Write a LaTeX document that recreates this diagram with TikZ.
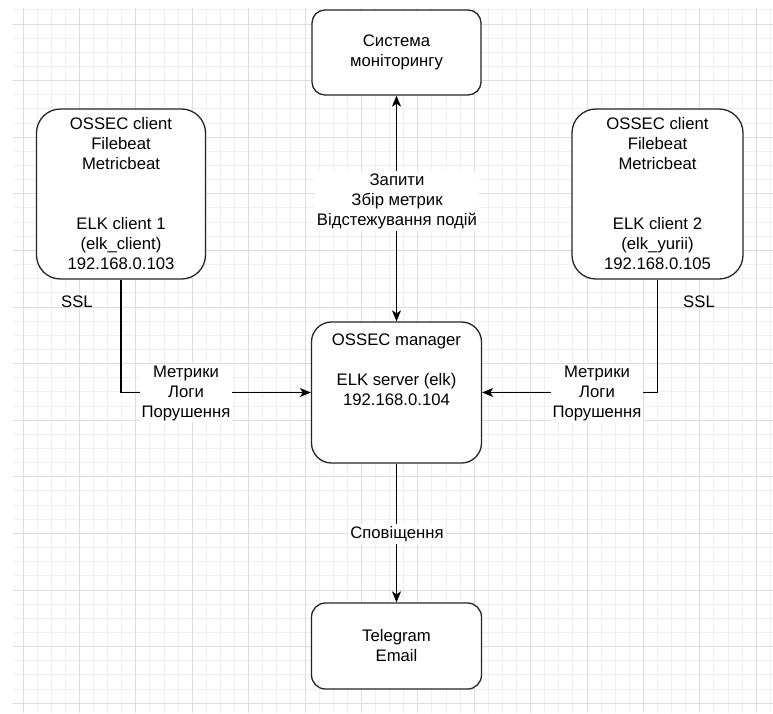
\documentclass[tikz,border=0pt]{standalone}
\usepackage{fontspec}
\setmainfont{Liberation Sans}
\usetikzlibrary{arrows.meta}
\definecolor{gridminor}{HTML}{EFEFEF}
\definecolor{gridmajor}{HTML}{DCDCDC}
\begin{document}
\begin{tikzpicture}[x=1pt,y=-1pt,
  every node/.style={font=\fontsize{16.7}{20}\selectfont},
  box/.style={draw=black!85,line width=1.3pt,fill=white,align=center,inner sep=0pt},
  conn/.style={draw=black,line width=1.1pt},
  tip/.style={-{Stealth[length=11pt,width=9pt,inset=3pt]}},
  lbl/.style={fill=white,align=center,inner sep=2pt},
  minorline/.style={draw=gridminor,line width=1pt},
  majorline/.style={draw=gridmajor,line width=1pt}]
\useasboundingbox (0,0) rectangle (773,713);
\fill[white] (0,0) rectangle (773,713);
% grid
\begin{scope}
\clip (13,8) rectangle (773,713);
\foreach \i in {-1,...,54} {\draw[minorline] ({23+14.1*\i},0) -- ({23+14.1*\i},713);}
\foreach \i in {-2,...,50} {\draw[minorline] (0,{24+14.15*\i}) -- (773,{24+14.15*\i});}
\foreach \i in {0,...,13} {\draw[majorline] ({23+56.4*\i},0) -- ({23+56.4*\i},713);}
\foreach \i in {0,...,12} {\draw[majorline] (0,{24+56.6*\i}) -- (773,{24+56.6*\i});}
\end{scope}
% boxes
\node[box,rounded corners=13pt,minimum width=169pt,minimum height=85pt] (tbox) at (396.5,52.5)
  {Система\\моніторингу};
\node[box,rounded corners=24pt,minimum width=169pt,minimum height=170pt] (lbox) at (121,194)
  {OSSEC client\\Filebeat\\Metricbeat\\\strut\\\strut\\ELK client 1\\(elk\_client)\\192.168.0.103};
\node[box,rounded corners=24pt,minimum width=171pt,minimum height=170pt] (rbox) at (657.5,194)
  {OSSEC client\\Filebeat\\Metricbeat\\\strut\\\strut\\ELK client 2\\(elk\_yurii)\\192.168.0.105};
\node[box,rounded corners=20pt,minimum width=170pt,minimum height=141pt] (mbox) at (396.5,392.5)
  {OSSEC manager\\\strut\\ELK server (elk)\\192.168.0.104\\\strut\\\strut};
\node[box,rounded corners=14pt,minimum width=170pt,minimum height=86pt] (bbox) at (396.5,646)
  {Telegram\\Email};
% connectors
\draw[conn,{Stealth[length=11pt,width=9pt,inset=3pt]}-{Stealth[length=11pt,width=9pt,inset=3pt]}] (mbox.north) -- (tbox.south);
\draw[conn,tip] (lbox.south) |- (mbox.west);
\draw[conn,tip] (rbox.south) |- (mbox.east);
\draw[conn,tip] (mbox.south) -- (bbox.north);
% labels
\node[lbl] (lq) at (397,201) {Запити\\Збір метрик\\Відстежування подій};
\node[lbl] (ll) at (186,393) {Метрики\\Логи\\Порушення};
\node[lbl] (lr) at (597,393) {Метрики\\Логи\\Порушення};
\node[lbl] (ln) at (397,534) {Сповіщення};
\node[inner sep=0pt] (sslL) at (77,302) {SSL};
\node[inner sep=0pt] (sslR) at (699,302) {SSL};
\end{tikzpicture}
\end{document}
